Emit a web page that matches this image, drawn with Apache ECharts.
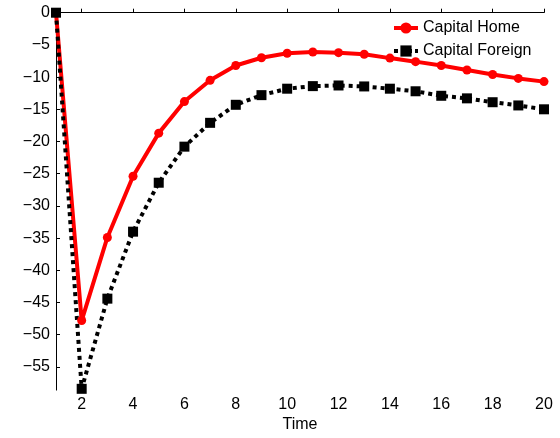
<!DOCTYPE html>
<html><head><meta charset="utf-8">
<script src="https://cdn.jsdelivr.net/npm/echarts@6/dist/echarts.min.js"></script>
<style>html,body{margin:0;padding:0;background:#fff}#c{width:560px;height:438px}</style>
</head><body><div id="c"></div>
<script>
var time = [1,2,3,4,5,6,7,8,9,10,11,12,13,14,15,16,17,18,19,20];
var capitalHome = [0,-47.8,-34.9,-25.4,-18.7,-13.8,-10.5,-8.2,-7.0,-6.3,-6.1,-6.2,-6.45,-7.05,-7.6,-8.2,-8.9,-9.6,-10.2,-10.7];
var capitalForeign = [0,-58.4,-44.4,-34.0,-26.4,-20.8,-17.1,-14.3,-12.8,-11.8,-11.4,-11.3,-11.45,-11.8,-12.2,-12.9,-13.3,-13.9,-14.4,-15.0];
var xTicks = [2,4,6,8,10,12,14,16,18,20];
var yTicks = [0,-5,-10,-15,-20,-25,-30,-35,-40,-45,-50,-55];
var ff = '"Liberation Sans", Arial, sans-serif';
function pairs(a){return time.map(function(t,i){return [t,a[i]];});}
var chart = echarts.init(document.getElementById('c'));
chart.setOption({
  animation:false,
  grid:{left:56,right:16,top:12.7,bottom:41},
  legend:{
    orient:'vertical', left:387, top:15, itemWidth:24, itemHeight:14, itemGap:7,
    textStyle:{fontFamily:ff,fontSize:16,color:'#000'},
    data:[
      {name:'Capital Home',lineStyle:{color:'#ff0000',width:4}},
      {name:'Capital Foreign',lineStyle:{color:'#000',width:4,type:[4,3]}}
    ]
  },
  xAxis:{
    type:'value', min:1, max:20, name:'Time', nameLocation:'middle', nameGap:22,
    nameTextStyle:{fontFamily:ff,fontSize:16,color:'#000'},
    axisLine:{lineStyle:{color:'#000',width:1}},
    axisTick:{inside:true,length:4,customValues:xTicks,lineStyle:{color:'#000'}},
    axisLabel:{customValues:xTicks,fontFamily:ff,fontSize:16,color:'#000',margin:6},
    splitLine:{show:false}
  },
  yAxis:{
    type:'value', min:-58.6, max:0,
    axisLine:{show:true,lineStyle:{color:'#000',width:1}},
    axisTick:{show:true,inside:true,length:4,customValues:yTicks,lineStyle:{color:'#000'}},
    axisLabel:{customValues:yTicks,fontFamily:ff,fontSize:16,color:'#000',margin:6,
      formatter:function(v){return v<0?'\u2212'+Math.abs(v):String(v);}},
    splitLine:{show:false}
  },
  series:[
    {name:'Capital Home',type:'line',data:pairs(capitalHome),symbol:'circle',symbolSize:9,
     lineStyle:{color:'#ff0000',width:4},itemStyle:{color:'#ff0000'},clip:false},
    {name:'Capital Foreign',type:'line',data:pairs(capitalForeign),symbol:'rect',symbolSize:10,
     lineStyle:{color:'#000',width:4,type:[4,4]},itemStyle:{color:'#000'},clip:false}
  ]
});
</script></body></html>
